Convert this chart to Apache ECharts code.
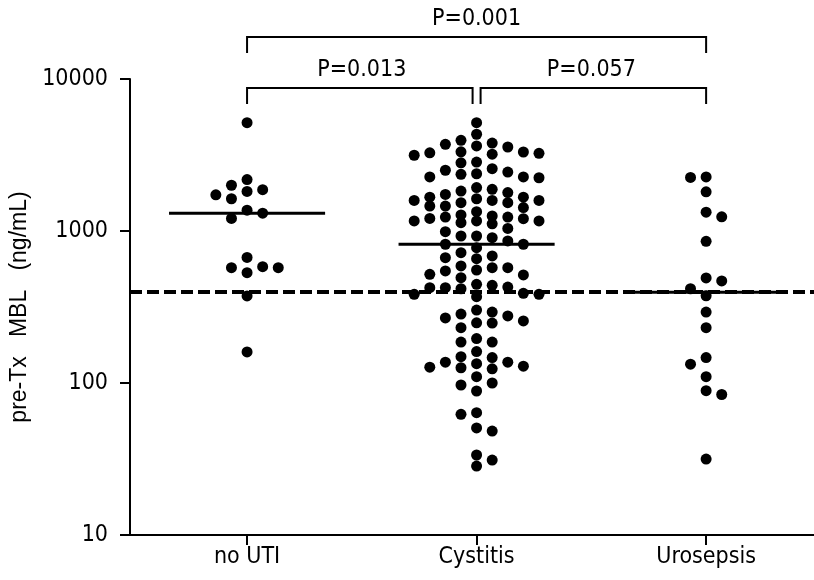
<!DOCTYPE html>
<html>
<head>
<meta charset="utf-8">
<script src="https://cdn.jsdelivr.net/npm/echarts@6/dist/echarts.min.js"></script>
<style>
  html, body { margin: 0; padding: 0; background: #fff; }
  #chart { width: 814px; height: 580px; }
</style>
</head>
<body>
<div id="chart"></div>
<script>
// Groups on the x axis
const categories = ['no UTI', 'Cystitis', 'Urosepsis'];

// Pre-transplant MBL concentration per patient (ng/mL)
const noUTI = [5160, 2180, 2000, 1870, 1820, 1730, 1630, 1370, 1310, 1210,
  670, 582, 574, 574, 532, 374, 160];

const cystitis = [
  5160, 4330, 3950, 3790, 3720, 3570, 3630, 3310, 3245, 3150,
  3200, 3270, 3320, 2810, 2840, 2380, 2270, 2510, 2240, 2440,
  2570, 2270, 2360, 1830, 1740, 1670, 1880, 1930, 1790, 1670,
  1590, 1590, 1535, 1460, 1425, 1460, 1340, 1535, 1590, 1630,
  1275, 1255, 1235, 1210, 1040, 1165, 1165, 1115, 1135, 1165,
  990, 1205, 1235, 927, 904, 860, 927, 818, 777, 818,
  685, 657, 667, 720, 589, 574, 546, 514, 493, 519,
  554, 574, 439, 424, 417, 446, 424, 428, 383, 383,
  370, 389, 284, 268, 302, 293, 249, 231, 248, 256,
  276, 196, 186, 186, 161, 149, 137, 134, 126, 124,
  127, 129, 137, 147, 110, 97, 88.6, 100, 62.2, 63.8,
  50.6, 48.3, 33.6, 28.4, 31.1
];

const urosepsis = [2270, 2250, 1810, 1330, 1240, 855, 491, 469, 417, 375,
  293, 231, 147, 133, 110, 89, 84, 31.6];

const groups = [noUTI, cystitis, urosepsis];

// Deficiency cut-off drawn as the dashed line
const referenceLevel = 400;

// Y axis decades
const yTicks = [10, 100, 1000, 10000];

// Pairwise comparisons shown as brackets above the plot
const comparisons = [
  { from: 0, to: 2, label: 'P=0.001', level: 0 },
  { from: 0, to: 1, label: 'P=0.013', level: 1 },
  { from: 1, to: 2, label: 'P=0.057', level: 1 }
];

const NARROW = '"DejaVu Sans Condensed", "Liberation Sans Narrow", sans-serif';
const REGULAR = '"Liberation Sans", Arial, sans-serif';
const DOT = 11;          // dot diameter
const COL_PX = 15.6;     // horizontal step between swarm columns
const MIN_DY = 11;       // dots closer than this in one column move sideways
const MAX_COL = 4;       // columns on each side of the centre
const MEDIAN_HALF = 0.34;

function median(arr) {
  const s = arr.slice().sort((a, b) => a - b);
  const n = s.length;
  return n % 2 ? s[(n - 1) / 2] : (s[n / 2 - 1] + s[n / 2]) / 2;
}

const chart = echarts.init(document.getElementById('chart'), null, { renderer: 'canvas' });

const baseOption = {
  animation: false,
  backgroundColor: '#fff',
  grid: { left: 130, right: 0, top: 79, bottom: 45, containLabel: false },
  xAxis: {
    type: 'value',
    min: 0.49,
    max: 3.47,
    splitLine: { show: false },
    axisLine: { show: true, onZero: false, lineStyle: { color: '#000', width: 2 } },
    axisTick: {
      show: true, inside: false, length: 10,
      customValues: [1, 2, 3],
      lineStyle: { color: '#000', width: 2 }
    },
    axisLabel: {
      show: true,
      customValues: [1, 2, 3],
      formatter: v => categories[Math.round(v) - 1] || '',
      color: '#000', fontSize: 23, fontFamily: NARROW, margin: 11
    }
  },
  yAxis: {
    type: 'log',
    logBase: 10,
    min: 10,
    max: 10000,
    name: 'pre-Tx   MBL   (ng/mL)',
    nameLocation: 'middle',
    nameGap: 80,
    nameTextStyle: { color: '#000', fontSize: 23, fontFamily: REGULAR },
    splitLine: { show: false },
    axisLine: { show: true, lineStyle: { color: '#000', width: 2 } },
    axisTick: {
      show: true, inside: false, length: 10,
      customValues: yTicks,
      lineStyle: { color: '#000', width: 2 }
    },
    axisLabel: {
      customValues: yTicks,
      formatter: v => String(Math.round(v)),
      color: '#000', fontSize: 23, fontFamily: NARROW, margin: 22
    }
  },
  series: []
};

chart.setOption(baseOption);

// Column-based swarm: each dot goes to the nearest free column around its group centre
function layoutSwarm(values, center) {
  const pxPerUnit = chart.convertToPixel({ xAxisIndex: 0 }, center + 1) -
                    chart.convertToPixel({ xAxisIndex: 0 }, center);
  const pts = values.map(v => ({ v, py: chart.convertToPixel({ yAxisIndex: 0 }, v) }));
  pts.sort((a, b) => a.py - b.py);
  const last = {};
  let left = 0, right = 0, flip = false;
  const out = [];
  const free = (k, py) => last[k] === undefined || py - last[k] >= MIN_DY;
  pts.forEach(p => {
    let chosen = null;
    for (let m = 0; m <= MAX_COL && chosen === null; m++) {
      let cands;
      if (m === 0) cands = [0];
      else if (left < right) cands = [-m, m];
      else if (right < left) cands = [m, -m];
      else { cands = flip ? [m, -m] : [-m, m]; flip = !flip; }
      for (const k of cands) {
        if (free(k, p.py)) { chosen = k; break; }
      }
    }
    if (chosen === null) {
      // every column is busy: stack onto the one with the widest gap
      let best = 0, gap = -Infinity;
      for (let k = -MAX_COL; k <= MAX_COL; k++) {
        const g = p.py - last[k];
        if (g > gap) { gap = g; best = k; }
      }
      chosen = best;
    }
    last[chosen] = p.py;
    if (chosen < 0) left++; else if (chosen > 0) right++;
    out.push([center + chosen * COL_PX / pxPerUnit, p.v]);
  });
  return out;
}

const medians = groups.map(median);

const series = [
  {
    // carrier for the dashed cut-off line
    type: 'line',
    data: [],
    z: 1,
    markLine: {
      silent: true,
      symbol: 'none',
      label: { show: false },
      lineStyle: { color: '#000', width: 4, type: [12, 5], opacity: 1 },
      data: [{ yAxis: referenceLevel }]
    }
  }
];

groups.forEach((g, i) => {
  series.push({
    type: 'scatter',
    name: categories[i],
    symbol: 'circle',
    symbolSize: DOT,
    itemStyle: { color: '#000', opacity: 1 },
    z: 3,
    data: layoutSwarm(g, i + 1)
  });
});

series.push({
  type: 'custom',
  z: 4,
  renderItem: (params, api) => {
    const c = api.value(0), m = api.value(1);
    const a = api.coord([c - MEDIAN_HALF, m]);
    const b = api.coord([c + MEDIAN_HALF, m]);
    return {
      type: 'line',
      shape: { x1: a[0], y1: a[1], x2: b[0], y2: b[1] },
      style: { stroke: '#000', lineWidth: 3 }
    };
  },
  data: medians.map((m, i) => [i + 1, m])
});

// Comparison brackets and their P values above the plot area
const levelY = [37, 88];
const LEG = 16;
const graphics = [];
const cx = i => chart.convertToPixel({ xAxisIndex: 0 }, i + 1);
comparisons.forEach(c => {
  let x1 = cx(c.from), x2 = cx(c.to);
  comparisons.forEach(o => {
    if (o === c || o.level !== c.level) return;
    if (o.from === c.to) x2 -= 4;
    if (o.to === c.from) x1 += 4;
  });
  const y = levelY[c.level];
  graphics.push({
    type: 'polyline',
    shape: { points: [[x1, y + LEG], [x1, y], [x2, y], [x2, y + LEG]] },
    style: { stroke: '#000', lineWidth: 2, fill: null }
  });
  graphics.push({
    type: 'text',
    x: (cx(c.from) + cx(c.to)) / 2,
    y: y - 6,
    style: {
      text: c.label, fill: '#000', font: '23px ' + NARROW,
      textAlign: 'center', textVerticalAlign: 'bottom'
    }
  });
});

chart.setOption({ series, graphic: graphics });
</script>
</body>
</html>
